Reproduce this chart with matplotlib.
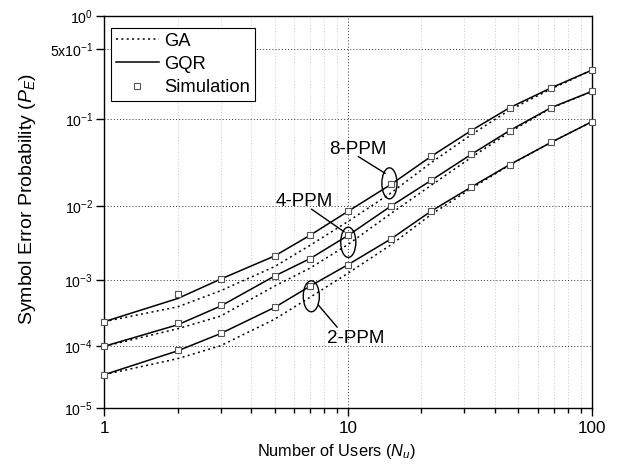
import numpy as np
import matplotlib
matplotlib.use("Agg")
import matplotlib.pyplot as plt
from matplotlib.patches import Ellipse
from matplotlib.lines import Line2D
from matplotlib.ticker import FixedLocator, FixedFormatter, NullFormatter

plt.rcParams['font.family'] = ['Liberation Sans', 'DejaVu Sans']
plt.rcParams['mathtext.fontset'] = 'custom'
plt.rcParams['mathtext.rm'] = 'Liberation Sans'
plt.rcParams['mathtext.it'] = 'Liberation Sans:italic'
plt.rcParams['mathtext.default'] = 'regular'

# ---- data -------------------------------------------------------------
users = [1, 2, 3, 5, 7, 10, 15, 22, 32, 46, 68, 100]

ga_8ppm = [2.37e-4, 3.98e-4, 6.9e-4, 1.54e-3, 3.05e-3, 6.3e-3, 1.44e-2,
           3.33e-2, 6.8e-2, 0.125, 0.205, 0.314]
gqr_8ppm = [2.37e-4, 5.3e-4, 1.02e-3, 2.17e-3, 4.16e-3, 8.5e-3, 1.83e-2,
            3.93e-2, 7.55e-2, 0.132, 0.210, 0.314]
sim_8ppm = [2.37e-4, 6.1e-4, 1.03e-3, 2.17e-3, 4.16e-3, 8.5e-3, 1.83e-2,
            3.93e-2, 7.55e-2, 0.132, 0.210, 0.314]

ga_4ppm = [9.8e-5, 1.84e-4, 2.88e-4, 8.1e-4, 1.47e-3, 3.12e-3, 7.97e-3,
           1.80e-2, 3.79e-2, 7.26e-2, 0.131, 0.194]
gqr_4ppm = [9.8e-5, 2.12e-4, 4.08e-4, 1.13e-3, 2.0e-3, 4.12e-3, 9.9e-3,
            2.06e-2, 4.11e-2, 7.55e-2, 0.132, 0.194]
sim_4ppm = [9.8e-5, 2.24e-4, 4.22e-4, 1.13e-3, 2.0e-3, 4.12e-3, 9.9e-3,
            2.06e-2, 4.11e-2, 7.55e-2, 0.132, 0.194]

ga_2ppm = [3.47e-5, 6.24e-5, 1.0e-4, 2.58e-4, 5.56e-4, 1.24e-3, 3.08e-3,
           7.8e-3, 1.63e-2, 3.10e-2, 5.6e-2, 9.4e-2]
gqr_2ppm = [3.47e-5, 8.3e-5, 1.55e-4, 3.9e-4, 8.1e-4, 1.64e-3, 3.7e-3,
            8.6e-3, 1.70e-2, 3.13e-2, 5.6e-2, 9.4e-2]
sim_2ppm = [3.47e-5, 8.5e-5, 1.59e-4, 3.9e-4, 8.1e-4, 1.64e-3, 3.7e-3,
            8.6e-3, 1.70e-2, 3.13e-2, 5.6e-2, 9.4e-2]

y_ticks = [1e-5, 1e-4, 1e-3, 1e-2, 1e-1, 5e-1, 1.0]
y_tick_labels = ['10$^{-5}$', '10$^{-4}$', '10$^{-3}$', '10$^{-2}$',
                 '10$^{-1}$', '5x10$^{-1}$', '10$^{0}$']
x_ticks = [1, 10, 100]
x_tick_labels = ['1', '10', '100']

# ---- probability axis: decades grow taller toward P = 1 ---------------
axis_decades = [-5, -4, -3, -2, -1, np.log10(0.5), 0]
axis_heights = [0, 61.6, 128.3, 202.6, 288.0, 357.3, 392.6]
coef = np.polyfit(axis_decades, axis_heights, 3)
grid_L = np.linspace(-5.6, 0.3, 3000)
grid_pos = np.polyval(coef, grid_L)


def prob_forward(y):
    y = np.asarray(y, dtype=float)
    return np.polyval(coef, np.log10(np.clip(y, 1e-12, None)))


def prob_inverse(p):
    return 10 ** np.interp(p, grid_pos, grid_L)


# ---- figure -------------------------------------------------------------
W, H = 621, 470
fig = plt.figure(figsize=(W / 100, H / 100), dpi=100)
ax = fig.add_axes([104.3 / W, (H - 408.3) / H, 487.4 / W, 392.6 / H])

ax.set_xscale('log')
ax.set_yscale('function', functions=(prob_forward, prob_inverse))
ax.set_xlim(1, 100)
ax.set_ylim(1e-5, 1)

ax.xaxis.set_major_locator(FixedLocator(x_ticks))
ax.xaxis.set_major_formatter(FixedFormatter(x_tick_labels))
minor_x = [m * d for d in (1, 10) for m in range(2, 10)]
ax.xaxis.set_minor_locator(FixedLocator(minor_x))
ax.xaxis.set_minor_formatter(NullFormatter())

ax.yaxis.set_major_locator(FixedLocator(y_ticks))
ax.yaxis.set_major_formatter(FixedFormatter(y_tick_labels))
ax.yaxis.set_minor_locator(FixedLocator([]))

ax.tick_params(axis='both', which='both', direction='out', top=False,
               right=False, width=1.0, colors='black')
ax.tick_params(axis='x', which='major', length=5.5, pad=3.5, labelsize=12.3)
ax.tick_params(axis='x', which='minor', length=3.5)
ax.tick_params(axis='y', which='major', length=5.5, pad=2.5, labelsize=10.2)
for s in ax.spines.values():
    s.set_linewidth(1.0)

# grid
dot = (0, (1, 2.2))
ax.grid(True, axis='x', which='minor', color='#c8c8c8', lw=0.7, ls=dot)
ax.grid(True, axis='x', which='major', color='#303030', lw=0.7, ls=dot)
ax.grid(True, axis='y', which='major', color='#303030', lw=0.7, ls=dot)
ax.set_axisbelow(True)

# curves
ga_style = dict(color='black', lw=1.1, ls=(0, (1.3, 2.2)))
gqr_style = dict(color='black', lw=1.1, ls='-')
sim_style = dict(ls='none', marker='s', ms=3.8, mfc='white', mec='#555555',
                 mew=0.8, clip_on=False, zorder=4)

for ga, gqr, sim in ((ga_8ppm, gqr_8ppm, sim_8ppm),
                     (ga_4ppm, gqr_4ppm, sim_4ppm),
                     (ga_2ppm, gqr_2ppm, sim_2ppm)):
    ax.plot(users, ga, **ga_style)
    ax.plot(users, gqr, **gqr_style)
    ax.plot(users, sim, **sim_style)

# PPM order annotations
ell_kw = dict(transform=ax.transAxes, fill=False, ec='black', lw=1.0, zorder=5)
ax.add_patch(Ellipse((0.585, 0.573), 0.031, 0.079, **ell_kw))
ax.add_patch(Ellipse((0.5006, 0.4228), 0.031, 0.077, **ell_kw))
ax.add_patch(Ellipse((0.4247, 0.2853), 0.033, 0.079, **ell_kw))

txt_kw = dict(transform=ax.transAxes, fontsize=13.5, ha='center', va='center')
ax.text(0.5207, 0.658, '8-PPM', **txt_kw)
ax.text(0.4097, 0.5262, '4-PPM', **txt_kw)
ax.text(0.516, 0.178, '2-PPM', **txt_kw)

ln_kw = dict(transform=ax.transAxes, color='black', lw=1.0)
ax.plot([0.5215, 0.5761], [0.6409, 0.5986], **ln_kw)
ax.plot([0.4255, 0.4918], [0.5069, 0.4498], **ln_kw)
ax.plot([0.4391, 0.4775], [0.2631, 0.2071], **ln_kw)

# legend
handles = [Line2D([], [], **ga_style),
           Line2D([], [], **gqr_style),
           Line2D([], [], ls='none', marker='s', ms=3.8, mfc='white',
                  mec='#555555', mew=0.8)]
leg = ax.legend(handles, ['GA', 'GQR', 'Simulation'], loc='upper left',
                bbox_to_anchor=(0.0137, 0.968), borderaxespad=0,
                fancybox=False, edgecolor='black', framealpha=1,
                fontsize=13.2, handlelength=2.35, handletextpad=0.3,
                borderpad=0.25, labelspacing=0.33)
leg.get_frame().set_linewidth(0.8)

# axis labels
ax.set_xlabel('Number of Users ($\\mathit{N}_{\\mathit{u}}$)', fontsize=11.8)
ax.set_ylabel('Symbol Error Probability ($\\mathit{P}_{\\mathit{E}}$)',
              fontsize=14)
ax.xaxis.set_label_coords(0.4768, -0.111)
ax.yaxis.set_label_coords(-0.158, 0.533)
ax.xaxis.label.set_va('center')
ax.yaxis.label.set_va('center')

fig.savefig('out.png', dpi=100)
